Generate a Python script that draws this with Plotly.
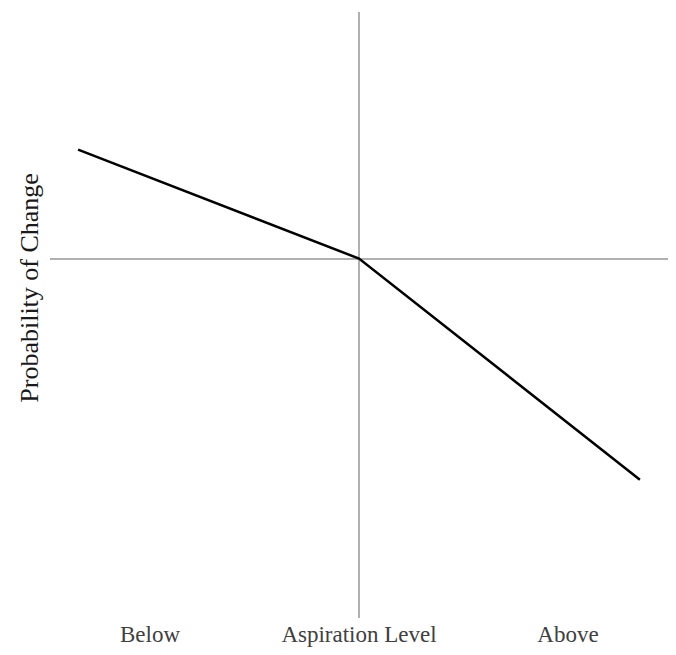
import plotly.graph_objects as go

# Data
x_positions = [-1, 0, 1]
probability = [1.0, 0.0, -2.03]
tick_positions = [-0.744, 0, 0.744]
tick_labels = ["Below", "Aspiration Level", "Above"]
y_title = "Probability of Change"

# page has an 8px body margin; the whole page fills the 676x655 window
W, H = 660, 639
ML, MR, MT, MB = 42, 0, 4, 24
plot_w = W - ML - MR
plot_h = H - MT - MB

fig = go.Figure()
fig.add_trace(go.Scatter(
    x=x_positions, y=probability, mode="lines",
    line=dict(color="black", width=2.5), showlegend=False, hoverinfo="skip"
))

fig.update_layout(
    width=W, height=H,
    margin=dict(l=ML, r=MR, t=MT, b=MB),
    paper_bgcolor="white", plot_bgcolor="white",
    font=dict(family="Liberation Serif, Times New Roman, serif", color="#333333"),
    xaxis=dict(
        range=[-1.1, 1.1], showgrid=False, showline=False,
        zeroline=True, zerolinecolor="#b0b0b0", zerolinewidth=2,
        tickvals=tick_positions, ticktext=tick_labels,
        ticks="", tickfont=dict(size=23, color="#404040"),
    ),
    yaxis=dict(
        range=[-3.3, 2.264], showgrid=False, showline=False,
        zeroline=True, zerolinecolor="#b0b0b0", zerolinewidth=2,
        showticklabels=False, ticks="",
    ),
    annotations=[dict(
        text=y_title, textangle=-90, xref="paper", yref="paper",
        x=(22 - ML) / plot_w, y=(H - 282 - MB) / plot_h,
        xanchor="center", yanchor="middle",
        showarrow=False, font=dict(size=26, color="#1a1a1a",
                                   family="Liberation Serif, Times New Roman, serif"),
    )],
)

fig.write_html("out.html", config={"displayModeBar": False})
